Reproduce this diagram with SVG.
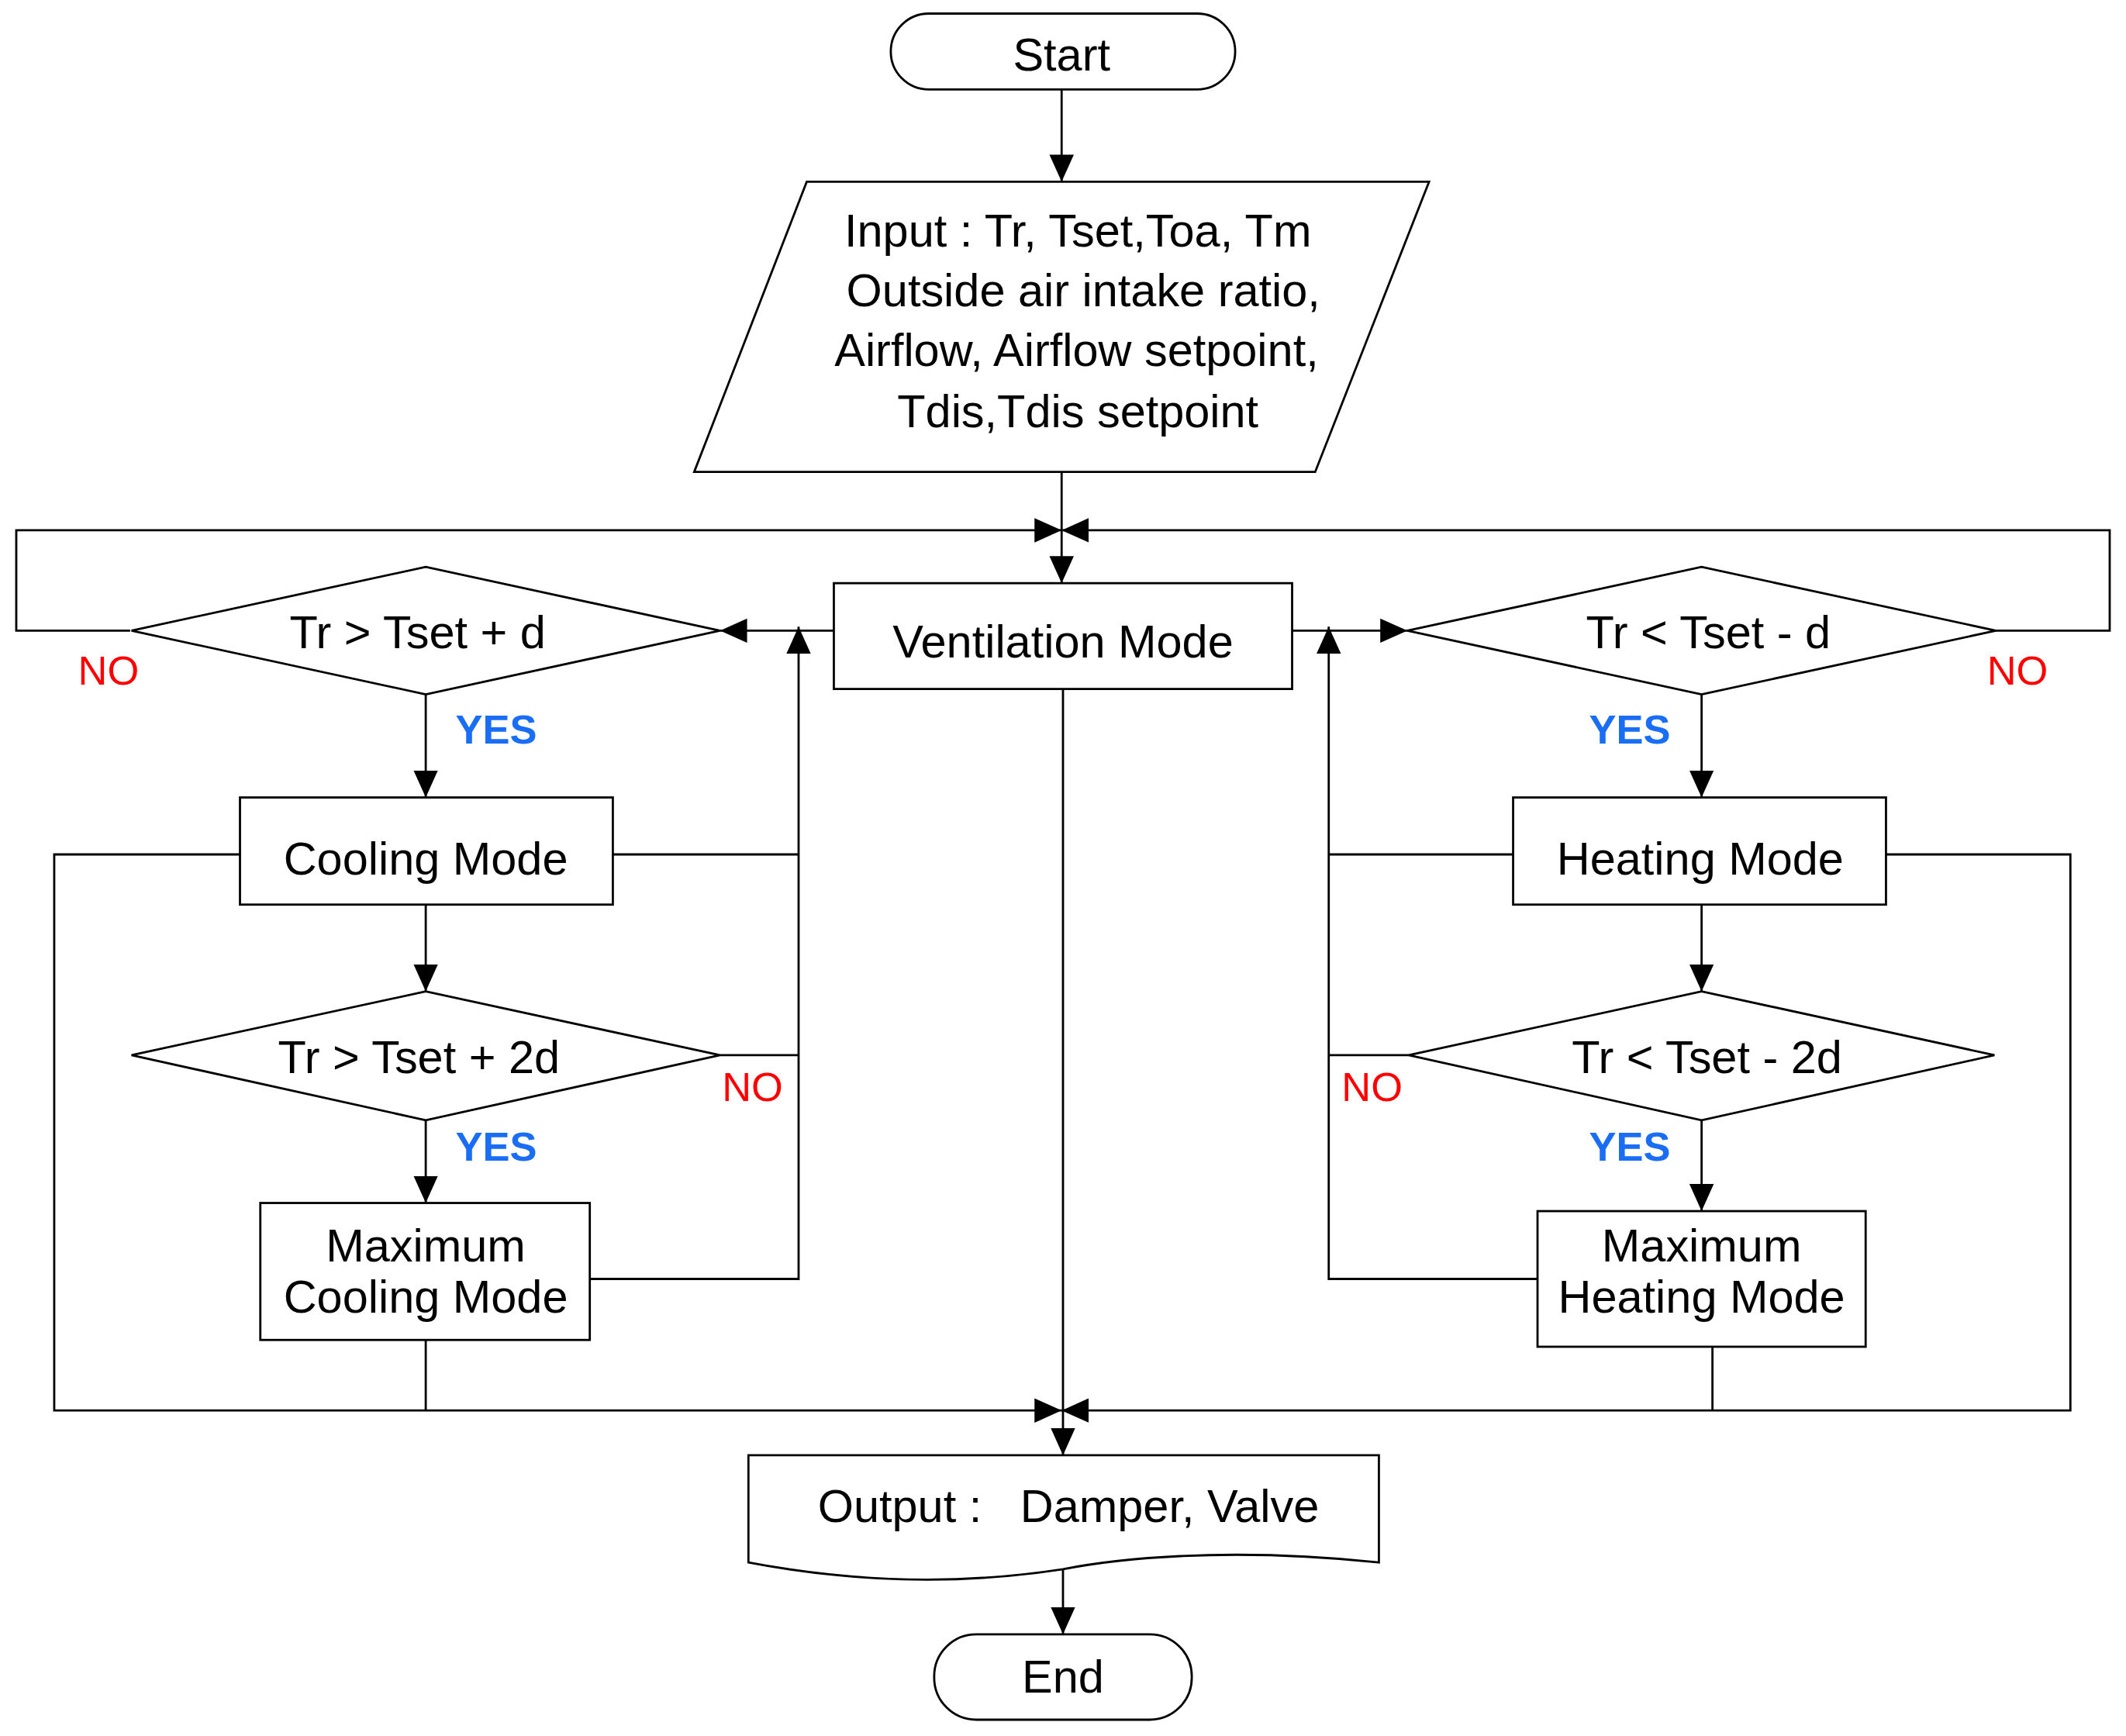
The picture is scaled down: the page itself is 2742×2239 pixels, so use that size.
<svg xmlns="http://www.w3.org/2000/svg" width="2742" height="2239" viewBox="0 0 2742 2239">
<style>
.s{fill:#fff;stroke:#000;stroke-width:1.6}
.l{fill:none;stroke:#000;stroke-width:1.6}
.t{font-family:"Liberation Sans",Arial,sans-serif;font-size:34px;fill:#000;text-anchor:middle}
.no{font-family:"Liberation Sans",Arial,sans-serif;font-size:30px;fill:#f00;text-anchor:middle}
.yes{font-family:"Liberation Sans",Arial,sans-serif;font-size:30px;font-weight:bold;fill:#1a6ef5;text-anchor:middle}
</style>
<defs>
<marker id="a" markerUnits="userSpaceOnUse" markerWidth="20" markerHeight="20" viewBox="0 0 20 20" refX="20" refY="10" orient="auto"><path d="M0,1 L20,10 L0,19 Z" fill="#000"/></marker>
</defs>
<rect width="2742" height="2239" fill="#fff"/>
<g transform="scale(1.7487,1.7492)">
<g id="connectors">
<path class="l" d="M783,66 V134" marker-end="url(#a)"/>
<path class="l" d="M783,348 V430" marker-end="url(#a)"/>
<path class="l" d="M96,465 H12 V391 H783" marker-end="url(#a)"/>
<path class="l" d="M1471,465 H1556 V391 H783" marker-end="url(#a)"/>
<path class="l" d="M615,465 H531" marker-end="url(#a)"/>
<path class="l" d="M953,465 H1038" marker-end="url(#a)"/>
<path class="l" d="M314,512 V588" marker-end="url(#a)"/>
<path class="l" d="M314,667 V731" marker-end="url(#a)"/>
<path class="l" d="M314,826 V887" marker-end="url(#a)"/>
<path class="l" d="M177,630 H40 V1040 H783" marker-end="url(#a)"/>
<path class="l" d="M314,988 V1040"/>
<path class="l" d="M452,630 H589"/>
<path class="l" d="M531,778 H589"/>
<path class="l" d="M435,943 H589 V462" marker-end="url(#a)"/>
<path class="l" d="M1255,512 V588" marker-end="url(#a)"/>
<path class="l" d="M1255,667 V731" marker-end="url(#a)"/>
<path class="l" d="M1255,826 V893" marker-end="url(#a)"/>
<path class="l" d="M1391,630 H1527 V1040 H783" marker-end="url(#a)"/>
<path class="l" d="M1263,993 V1040"/>
<path class="l" d="M1116,630 H980"/>
<path class="l" d="M1039,778 H980"/>
<path class="l" d="M1134,943 H980 V462" marker-end="url(#a)"/>
<path class="l" d="M784,508 V1073" marker-end="url(#a)"/>
<path class="l" d="M784,1155 V1205" marker-end="url(#a)"/>
</g>
<g id="start"><rect class="s" x="657" y="10" width="254" height="56" rx="28"/><text class="t" x="783" y="52">Start</text></g>
<g id="input"><polygon class="s" points="595,134 1054,134 970,348 512,348"/>
<text class="t" x="795" y="182">Input : Tr, Tset,Toa, Tm</text>
<text class="t" x="799" y="226">Outside air intake ratio,</text>
<text class="t" x="794" y="270">Airflow, Airflow setpoint,</text>
<text class="t" x="795" y="315">Tdis,Tdis setpoint</text></g>
<g id="vent"><rect class="s" x="615" y="430" width="338" height="78"/><text class="t" x="784" y="485">Ventilation Mode</text></g>
<g id="d1"><polygon class="s" points="97,465 314,418 531,465 314,512"/><text class="t" x="308" y="478">Tr &gt; Tset + d</text></g>
<g id="cool"><rect class="s" x="177" y="588" width="275" height="79"/><text class="t" x="314" y="645">Cooling Mode</text></g>
<g id="d2"><polygon class="s" points="97,778 314,731 531,778 314,826"/><text class="t" x="309" y="791">Tr &gt; Tset + 2d</text></g>
<g id="maxcool"><rect class="s" x="192" y="887" width="243" height="101"/><text class="t" x="314" y="930">Maximum</text><text class="t" x="314" y="968">Cooling Mode</text></g>
<g id="d3"><polygon class="s" points="1038,465 1255,418 1472,465 1255,512"/><text class="t" x="1260" y="478">Tr &lt; Tset - d</text></g>
<g id="heat"><rect class="s" x="1116" y="588" width="275" height="79"/><text class="t" x="1254" y="645">Heating Mode</text></g>
<g id="d4"><polygon class="s" points="1039,778 1255,731 1471,778 1255,826"/><text class="t" x="1259" y="791">Tr &lt; Tset - 2d</text></g>
<g id="maxheat"><rect class="s" x="1134" y="893" width="242" height="100"/><text class="t" x="1255" y="930">Maximum</text><text class="t" x="1255" y="968">Heating Mode</text></g>
<g id="output"><path class="s" d="M552,1073 H1017 V1152 C900,1140 820,1150 784,1157 C700,1170 620,1165 552,1152 Z"/><text class="t" x="788" y="1122" xml:space="preserve">Output :   Damper, Valve</text></g>
<g id="end"><rect class="s" x="689" y="1205" width="190" height="63" rx="31"/><text class="t" x="784" y="1248">End</text></g>
<g id="labels">
<text class="no" x="80" y="505">NO</text>
<text class="no" x="1488" y="505">NO</text>
<text class="no" x="555" y="812">NO</text>
<text class="no" x="1012" y="812">NO</text>
<text class="yes" x="366" y="548">YES</text>
<text class="yes" x="366" y="856">YES</text>
<text class="yes" x="1202" y="548">YES</text>
<text class="yes" x="1202" y="856">YES</text>
</g>
</g>
</svg>
